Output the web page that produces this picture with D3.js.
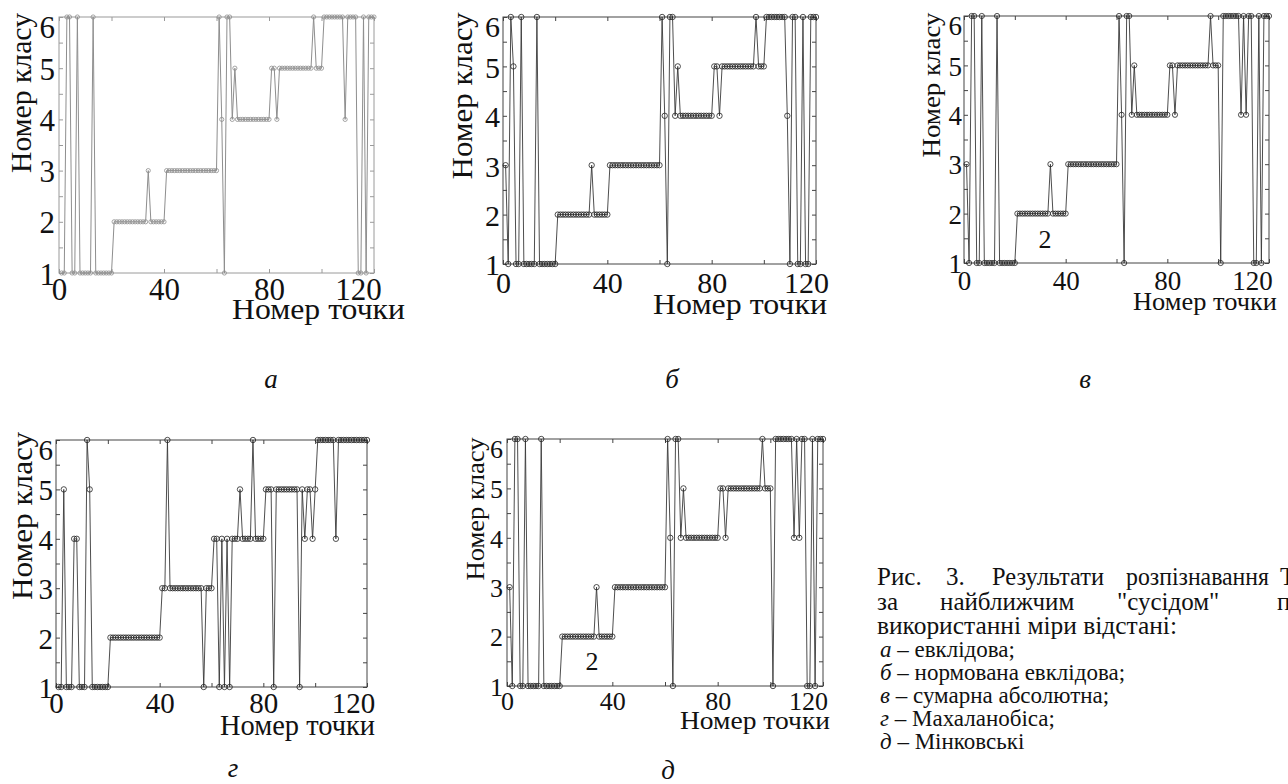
<!DOCTYPE html>
<html><head><meta charset="utf-8">
<script src="https://cdn.jsdelivr.net/npm/d3@7"></script>
<style>
html,body{margin:0;padding:0;background:#fff;}
svg{display:block;}
svg text{font-family:"Liberation Serif","DejaVu Serif","Noto Serif",serif !important;fill:#111;}
</style></head><body>
<svg id="chart" width="1288" height="784"></svg>
<script>
// ---------- data ----------
const pointIndex = d3.range(1, 121);            // номер точки 1..120
const classTicks = [1, 2, 3, 4, 5, 6];
const xTickLabels = [0, 40, 80, 120];
const xMinorTicks = [0, 20, 40, 60, 80, 100, 120];
const yMinorTicks = [1, 1.5, 2, 2.5, 3, 3.5, 4, 4.5, 5, 5.5, 6];
const xTitleText = "Номер точки";
const yTitleText = "Номер класу";

// а – евклідова
const classesEuclid = [
 1,1,6,6,1,1,6,1,1,1,1,1,6,1,1,1,1,1,1,1,
 2,2,2,2,2,2,2,2,2,2,2,2,2,3,2,2,2,2,2,2,
 3,3,3,3,3,3,3,3,3,3,3,3,3,3,3,3,3,3,3,3,
 6,4,1,6,6,4,5,4,4,4,4,4,4,4,4,4,4,4,4,4,
 5,5,4,5,5,5,5,5,5,5,5,5,5,5,5,5,6,5,5,5,
 6,6,6,6,6,6,6,6,4,6,6,6,6,1,1,6,1,6,6,6];
// б – нормована евклідова
const classesNormEuclid = [
 3,1,6,5,1,1,6,1,1,1,1,1,6,1,1,1,1,1,1,1,
 2,2,2,2,2,2,2,2,2,2,2,2,2,3,2,2,2,2,2,2,
 3,3,3,3,3,3,3,3,3,3,3,3,3,3,3,3,3,3,3,3,
 6,4,1,6,6,4,5,4,4,4,4,4,4,4,4,4,4,4,4,4,
 5,5,4,5,5,5,5,5,5,5,5,5,5,5,5,5,6,5,5,5,
 6,6,6,6,6,6,6,6,4,1,6,6,1,1,6,1,1,6,6,6];
// в – сумарна абсолютна
const classesAbs = [
 3,1,6,6,1,1,6,1,1,1,1,1,6,1,1,1,1,1,1,1,
 2,2,2,2,2,2,2,2,2,2,2,2,2,3,2,2,2,2,2,2,
 3,3,3,3,3,3,3,3,3,3,3,3,3,3,3,3,3,3,3,3,
 6,4,1,6,6,4,5,4,4,4,4,4,4,4,4,4,4,4,4,4,
 5,5,4,5,5,5,5,5,5,5,5,5,5,5,5,5,6,5,5,5,
 1,6,6,6,6,6,6,6,4,6,4,6,6,1,1,6,1,6,6,6];
// г – Махаланобіса
const classesMahal = [
 1,1,5,1,1,1,4,4,1,1,1,6,5,1,1,1,1,1,1,1,
 2,2,2,2,2,2,2,2,2,2,2,2,2,2,2,2,2,2,2,2,
 3,3,6,3,3,3,3,3,3,3,3,3,3,3,3,3,1,3,3,3,
 4,4,1,4,1,4,1,4,4,4,5,4,4,4,4,6,4,4,4,4,
 5,5,5,1,5,5,5,5,5,5,5,5,5,1,5,4,5,5,4,5,
 6,6,6,6,6,6,6,4,6,6,6,6,6,6,6,6,6,6,6,6];
// д – Мінковські
const classesMinkowski = [
 3,1,6,6,1,1,6,1,1,1,1,1,6,1,1,1,1,1,1,1,
 2,2,2,2,2,2,2,2,2,2,2,2,2,3,2,2,2,2,2,2,
 3,3,3,3,3,3,3,3,3,3,3,3,3,3,3,3,3,3,3,3,
 6,4,1,6,6,4,5,4,4,4,4,4,4,4,4,4,4,4,4,4,
 5,5,4,5,5,5,5,5,5,5,5,5,5,5,5,5,6,5,5,5,
 1,6,6,6,6,6,6,6,4,6,4,6,6,1,1,6,1,6,6,6];

const panelLetters = ["а", "б", "в", "г", "д"];
const captionLine1 = ["Рис.", "3.", "Результати", "розпізнавання", "Т"];
const captionLine2 = ["за", "найближчим", "\"сусідом\"", "п"];
const captionLine3 = "використанні міри відстані:";
const legendLetters = ["а", "б", "в", "г", "д"];
const legendNames = ["евклідова;", "нормована евклідова;", "сумарна абсолютна;", "Махаланобіса;", "Мінковські"];
const annotation = "2";

// ---------- layout ----------
const panels = [
 {values: classesEuclid, x0:59, x1:374, y0:17, y1:273, tickFont:31, titleFont:30,
  line:'#8e8e8e', mark:'#8e8e8e', frame:'#9a9a9a', r:2.1, lw:1,
  yT:{x:31, cy:93, len:160}, xT:{x:232, y:319, len:173}, xLab:300, yGap:4, dx120:-16,
  letter:{x:271, y:388}, ann:null},
 {values: classesNormEuclid, x0:503, x1:816, y0:17, y1:264, tickFont:30, titleFont:30,
  line:'#3a3a3a', mark:'#222', frame:'#444', r:2.7, lw:0.9,
  yT:{x:472, cy:96, len:167}, xT:{x:653, y:314, len:174}, xLab:293, yGap:3, dx120:-10,
  letter:{x:672, y:388}, ann:null},
 {values: classesAbs, x0:964, x1:1269, y0:16, y1:263, tickFont:27, titleFont:26,
  line:'#3a3a3a', mark:'#222', frame:'#444', r:2.6, lw:0.9,
  yT:{x:940, cy:85, len:145}, xT:{x:1133, y:310, len:144}, xLab:290, yGap:2, dx120:-17,
  letter:{x:1085, y:388}, ann:{x:1045, y:248, size:26}},
 {values: classesMahal, x0:56, x1:367, y0:440, y1:687, tickFont:29, titleFont:29,
  line:'#3a3a3a', mark:'#222', frame:'#444', r:2.7, lw:0.9,
  yT:{x:32, cy:516, len:168}, xT:{x:220, y:735, len:155}, xLab:713, yGap:3, dx120:-14,
  letter:{x:233, y:777}, ann:null},
 {values: classesMinkowski, x0:507, x1:823, y0:439, y1:686, tickFont:26, titleFont:26,
  line:'#3a3a3a', mark:'#222', frame:'#444', r:2.7, lw:0.9,
  yT:{x:484, cy:509, len:143}, xT:{x:680, y:729, len:150}, xLab:710, yGap:4, dx120:-15,
  letter:{x:668, y:779}, ann:{x:592, y:670, size:26}}
];

const svg = d3.select('#chart');
const fmt = d3.format('d');

panels.forEach((p, k) => {
  const x = d3.scaleLinear().domain([0, 120]).range([p.x0, p.x1]);
  const y = d3.scaleLinear().domain([1, 6]).range([p.y1, p.y0]);
  const g = svg.append('g');

  // frame
  g.append('rect').attr('x', p.x0).attr('y', p.y0)
    .attr('width', p.x1 - p.x0).attr('height', p.y1 - p.y0)
    .attr('fill', 'none').attr('stroke', p.frame).attr('stroke-width', 1);

  // inward ticks on all four sides
  const tickStyle = sel => { sel.select('.domain').remove();
    sel.selectAll('line').attr('stroke', p.frame).attr('stroke-width', 1);
    sel.selectAll('text').remove(); };
  g.append('g').attr('transform', `translate(0,${p.y1})`)
    .call(d3.axisBottom(x).tickValues(xMinorTicks).tickSize(-4)).call(tickStyle);
  g.append('g').attr('transform', `translate(0,${p.y0})`)
    .call(d3.axisTop(x).tickValues(xMinorTicks).tickSize(-4)).call(tickStyle);
  g.append('g').attr('transform', `translate(${p.x0},0)`)
    .call(d3.axisLeft(y).tickValues(yMinorTicks).tickSize(-4)).call(tickStyle);
  g.append('g').attr('transform', `translate(${p.x1},0)`)
    .call(d3.axisRight(y).tickValues(yMinorTicks).tickSize(-4)).call(tickStyle);

  // tick labels
  const xl = g.append('g').attr('transform', `translate(0,${p.xLab})`)
    .call(d3.axisBottom(x).tickValues(xTickLabels).tickFormat(fmt).tickSize(0).tickPadding(0));
  xl.attr('font-family', null).attr('font-size', null);
  xl.select('.domain').remove();
  xl.selectAll('text').attr('y', 0).attr('dy', null)
    .attr('font-size', p.tickFont).attr('fill', '#111')
    .attr('dx', d => d === 120 ? p.dx120 : 0);

  const yl = g.append('g').attr('transform', `translate(${p.x0 - p.yGap},0)`)
    .call(d3.axisLeft(y).tickValues(classTicks).tickFormat(fmt).tickSize(0).tickPadding(0));
  yl.attr('font-family', null).attr('font-size', null);
  yl.select('.domain').remove();
  yl.selectAll('text').attr('x', 0).attr('dy', '0.36em')
    .attr('font-size', p.tickFont).attr('fill', '#111')
    .attr('transform', d => d === 6 ? 'translate(0,9)' : null);

  // axis titles
  g.append('text').attr('transform', `translate(${p.yT.x},${p.yT.cy}) rotate(-90)`)
    .attr('text-anchor', 'middle').attr('font-size', p.titleFont)
    .attr('textLength', p.yT.len).attr('lengthAdjust', 'spacingAndGlyphs')
    .text(yTitleText);
  g.append('text').attr('x', p.xT.x).attr('y', p.xT.y)
    .attr('font-size', p.titleFont)
    .attr('textLength', p.xT.len).attr('lengthAdjust', 'spacingAndGlyphs')
    .text(xTitleText);

  // series line + open circle markers
  const line = d3.line().x((d, i) => x(pointIndex[i])).y(d => y(d));
  g.append('path').datum(p.values).attr('d', line)
    .attr('fill', 'none').attr('stroke', p.line).attr('stroke-width', p.lw);
  g.selectAll('circle.m').data(p.values).join('circle').attr('class', 'm')
    .attr('cx', (d, i) => x(pointIndex[i])).attr('cy', d => y(d)).attr('r', p.r)
    .attr('fill', 'none').attr('stroke', p.mark).attr('stroke-width', 0.8);

  if (p.ann) {
    g.append('text').attr('x', p.ann.x).attr('y', p.ann.y).attr('text-anchor', 'middle')
      .attr('font-size', p.ann.size).text(annotation);
  }
  // panel letter
  svg.append('text').attr('x', p.letter.x).attr('y', p.letter.y).attr('text-anchor', 'middle')
    .attr('font-size', 27).attr('font-style', 'italic').text(panelLetters[k]);
});

// ---------- caption ----------
const cap = svg.append('g');
const line1X = [877, 946, 992, 1126, 1280];
const line1Len = [null, null, 112, 143, null];
const line2X = [877, 940, 1117, 1277];
cap.selectAll('text.l1').data(captionLine1).join('text').attr('class', 'l1')
  .attr('x', (d, i) => line1X[i]).attr('y', 585).attr('font-size', 25)
  .attr('textLength', (d, i) => line1Len[i]).attr('lengthAdjust', 'spacingAndGlyphs')
  .text(d => d);
cap.selectAll('text.l2').data(captionLine2).join('text').attr('class', 'l2')
  .attr('x', (d, i) => line2X[i]).attr('y', 610).attr('font-size', 25).text(d => d);
cap.append('text').attr('x', 877).attr('y', 634).attr('font-size', 25)
  .attr('textLength', 300).attr('lengthAdjust', 'spacingAndGlyphs').text(captionLine3);
const legendY = [657, 680, 703, 726, 749];
legendNames.forEach((nm, i) => {
  const t = cap.append('text').attr('x', 880).attr('y', legendY[i]).attr('font-size', 23);
  t.append('tspan').attr('font-style', 'italic').text(legendLetters[i]);
  t.append('tspan').text(' – ' + nm);
});
</script>
</body></html>
